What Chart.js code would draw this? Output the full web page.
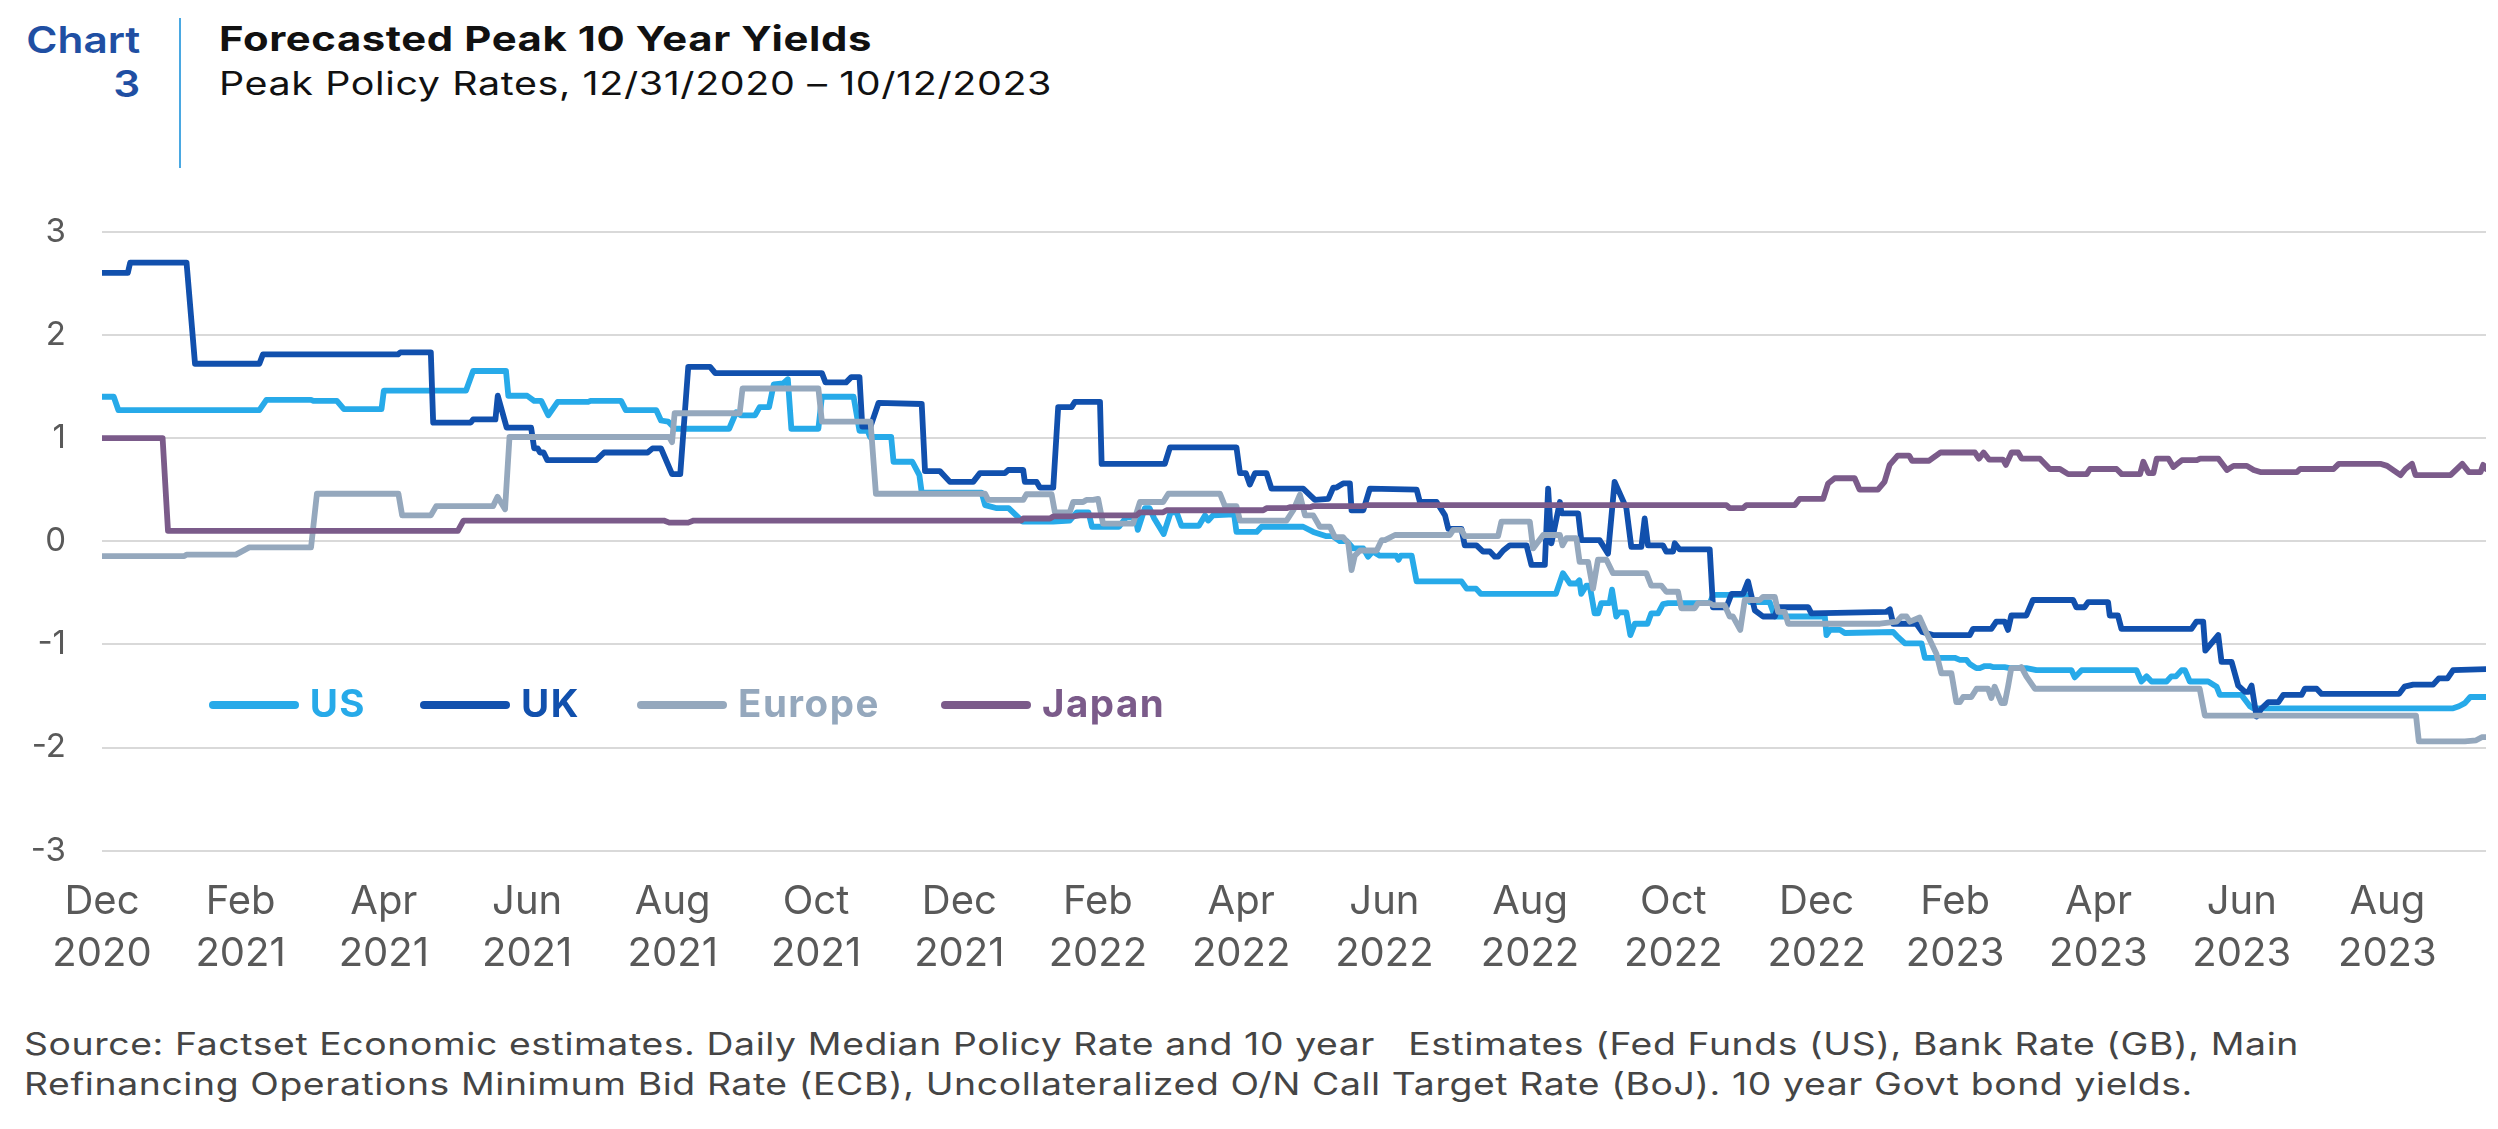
<!DOCTYPE html>
<html>
<head>
<meta charset="utf-8">
<script src="https://cdn.jsdelivr.net/npm/chart.js@4.4.1/dist/chart.umd.min.js"></script>
<style>
  html, body { margin: 0; padding: 0; background: #ffffff; }
  body { width: 2498px; height: 1129px; position: relative; overflow: hidden; font-family: Inter, "Open Sans", sans-serif; }
  .abs { position: absolute; white-space: pre; line-height: 1; }
  .chartNo { color: #1f4fa3; font-weight: 600; font-size: 36.5px; transform-origin: right top; }
  #vline { position: absolute; left: 179px; top: 18px; width: 2px; height: 150px; background: #4aa8e2; }
  #title { left: 219px; top: 22px; font-size: 34.5px; font-weight: 650; color: #111; letter-spacing: 0.5px; transform-origin: left top; }
  #subtitle { left: 219px; top: 67.5px; font-size: 32px; font-weight: 400; color: #111; letter-spacing: 0.5px; transform-origin: left top; }
  #foot { left: 24px; top: 1024px; font-size: 31px; line-height: 40px; color: #454545; letter-spacing: 0.5px; transform-origin: left top; }
  #cv { position: absolute; left: 0; top: 0; }
  .lg { position: absolute; height: 40px; }
  .lg .sw { position: absolute; left: 0; top: 16.7px; width: 90px; height: 8px; border-radius: 4px; }
  .lg .tx { position: absolute; top: 0; font-weight: 650; font-size: 38.5px; line-height: 1; white-space: pre; letter-spacing: 1.5px; }
</style>
</head>
<body>
<div id="chartA" class="abs chartNo" style="right:2358px;top:22px">Chart</div>
<div id="chartB" class="abs chartNo" style="right:2358px;top:65.5px">3</div>
<div id="vline"></div>
<div id="title" class="abs">Forecasted Peak 10 Year Yields</div>
<div id="subtitle" class="abs">Peak Policy Rates, 12/31/2020 – 10/12/2023</div>
<canvas id="cv" width="2498" height="1000"></canvas>
<div id="legend"></div>
<div id="foot" class="abs">Source: Factset Economic estimates. Daily Median Policy Rate and 10 year   Estimates (Fed Funds (US), Bank Rate (GB), Main
Refinancing Operations Minimum Bid Rate (ECB), Uncollateralized O/N Call Target Rate (BoJ). 10 year Govt bond yields.</div>
<script>
// ---------------- DATA (x = days since 2020-12-31, y = forecasted peak yield) ----------------
const seriesNames = ['US', 'UK', 'Europe', 'Japan'];

const usSeries = [[0,1.40],[5,1.40],[7,1.27],[67,1.27],[70,1.37],[89,1.37],[90,1.36],[100,1.36],[103,1.28],[119,1.28],[120,1.46],[155,1.46],[158,1.65],[172,1.65],[173,1.41],[181,1.41],[184,1.36],[187,1.36],[190,1.22],[194,1.35],[207,1.35],[208,1.36],[221,1.36],[223,1.27],[236,1.27],[238,1.17],[241,1.16],[244,1.09],[267,1.09],[270,1.25],[272,1.22],[278,1.22],[280,1.30],[284,1.30],[286,1.52],[290,1.53],[292,1.57],[293.5,1.09],[305,1.09],[306.5,1.40],[320,1.40],[322.5,1.07],[326,1.07],[327,1.01],[336,1.01],[337,0.77],[345,0.77],[348,0.64],[349,0.47],[374.5,0.47],[376,0.35],[381,0.32],[386,0.32],[392,0.19],[405,0.19],[412,0.20],[415,0.28],[420,0.28],[421.5,0.14],[433,0.14],[436,0.23],[440,0.23],[441,0.11],[444,0.32],[446,0.32],[448,0.22],[452,0.07],[455,0.28],[457.5,0.28],[459.6,0.15],[467,0.15],[469.6,0.25],[471,0.20],[473,0.25],[482,0.26],[483,0.09],[491.6,0.09],[493.7,0.14],[511.4,0.14],[515.7,0.09],[521,0.05],[524,0.05],[527,0.00],[530,0.00],[532.7,-0.07],[537,-0.07],[539,-0.15],[541,-0.10],[544,-0.14],[551,-0.14],[552,-0.18],[553,-0.14],[557.6,-0.14],[559.7,-0.39],[578.8,-0.39],[581,-0.46],[585,-0.46],[587,-0.51],[619,-0.51],[622,-0.31],[625,-0.41],[627.7,-0.41],[629,-0.38],[629.8,-0.51],[632,-0.43],[633.4,-0.43],[635.5,-0.70],[637,-0.70],[638.3,-0.60],[641.9,-0.60],[642.9,-0.47],[644.7,-0.73],[646,-0.69],[649,-0.69],[650.7,-0.91],[652.6,-0.80],[658,-0.80],[659.6,-0.70],[662.5,-0.70],[664.6,-0.61],[666.8,-0.60],[684.5,-0.60],[686,-0.52],[700,-0.52],[701.6,-0.59],[710,-0.59],[712.2,-0.73],[733.5,-0.73],[734.2,-0.91],[735.7,-0.86],[740,-0.86],[742,-0.89],[762.6,-0.88],[764.7,-0.93],[767.6,-0.99],[774.7,-0.99],[776.1,-1.13],[788.8,-1.13],[791,-1.15],[793.8,-1.15],[795.2,-1.19],[798,-1.23],[799.5,-1.23],[801.6,-1.21],[803.7,-1.21],[805,-1.22],[810,-1.22],[812.2,-1.23],[819.3,-1.23],[823.6,-1.25],[838.5,-1.25],[839.9,-1.32],[842.8,-1.25],[866.2,-1.25],[868.3,-1.36],[870.5,-1.31],[872.6,-1.36],[879,-1.36],[881,-1.31],[883,-1.31],[885.4,-1.25],[886.8,-1.25],[888.9,-1.36],[896.7,-1.36],[900.3,-1.41],[901.7,-1.49],[910.9,-1.49],[914.5,-1.60],[915.9,-1.62],[1001,-1.62],[1003.5,-1.60],[1006,-1.57],[1008.3,-1.51],[1015,-1.51]];

const ukSeries = [[0,2.60],[11,2.60],[12,2.70],[36,2.70],[39.6,1.72],[67,1.72],[68.5,1.81],[126,1.81],[127,1.83],[140,1.83],[141,1.15],[157,1.15],[158,1.18],[167.5,1.18],[168.5,1.41],[172.3,1.10],[182.7,1.10],[184,0.90],[185.5,0.90],[186.5,0.86],[188,0.86],[189.6,0.785],[210.4,0.785],[213.8,0.86],[232.3,0.86],[234.4,0.90],[238,0.90],[242.7,0.65],[246.2,0.65],[249.6,1.69],[258.9,1.69],[261.1,1.63],[306.5,1.63],[308,1.54],[316.8,1.54],[319,1.59],[322.5,1.59],[323.7,1.11],[327.2,1.11],[330.6,1.34],[349,1.33],[350.4,0.68],[356.7,0.68],[361,0.575],[370.9,0.575],[373.8,0.66],[384.4,0.66],[385.8,0.69],[392.2,0.69],[392.9,0.575],[397.9,0.575],[399.3,0.52],[405,0.52],[407.1,1.30],[412.8,1.30],[414.2,1.35],[424.9,1.35],[425.6,0.75],[452.5,0.75],[454.7,0.91],[483,0.91],[484.5,0.66],[487,0.66],[488.7,0.55],[490.9,0.66],[495.8,0.66],[497.9,0.51],[511.4,0.51],[516.4,0.40],[522.1,0.41],[524.2,0.52],[525.6,0.52],[528.4,0.56],[531.3,0.56],[532,0.30],[537,0.30],[539.8,0.51],[559.7,0.50],[561.1,0.38],[568.2,0.38],[571.8,0.25],[573.2,0.12],[578.8,0.12],[580.2,-0.04],[585.2,-0.04],[588,-0.10],[590.9,-0.10],[593,-0.15],[594.4,-0.15],[596.6,-0.09],[599.4,-0.04],[606.5,-0.04],[608.6,-0.23],[614.3,-0.23],[615.7,0.51],[617.1,-0.02],[620.7,0.38],[621.4,0.27],[628.5,0.27],[629.8,0.01],[637.6,0.01],[641.2,-0.12],[644,0.575],[649,0.32],[651.1,-0.055],[655.4,-0.055],[656.8,0.22],[658.2,-0.04],[664.6,-0.04],[666,-0.10],[668.9,-0.10],[669.6,-0.02],[671.7,-0.08],[684.5,-0.08],[685.9,-0.64],[691.6,-0.64],[693.8,-0.51],[698.7,-0.51],[700.8,-0.39],[703.7,-0.67],[707.2,-0.73],[712.2,-0.73],[713.6,-0.64],[726.4,-0.64],[727.8,-0.70],[759.7,-0.685],[761.2,-0.66],[762.6,-0.80],[772.5,-0.80],[775,-0.88],[779.6,-0.91],[795.2,-0.91],[796.6,-0.85],[804.4,-0.85],[806.5,-0.78],[810.1,-0.78],[811.5,-0.86],[812.9,-0.72],[819.3,-0.72],[822.1,-0.57],[839.2,-0.57],[840.6,-0.64],[844.1,-0.64],[845.6,-0.59],[854.1,-0.59],[854.8,-0.72],[858.3,-0.72],[859.8,-0.85],[889.6,-0.85],[891.7,-0.78],[894.6,-0.78],[895.5,-1.06],[901,-0.91],[902.4,-1.17],[906.7,-1.17],[909.5,-1.40],[912.4,-1.46],[913.8,-1.46],[915.2,-1.40],[917.3,-1.70],[919.5,-1.62],[922.3,-1.56],[926.6,-1.56],[928.7,-1.49],[936.5,-1.49],[937.9,-1.43],[942.9,-1.43],[945,-1.48],[978,-1.48],[980.3,-1.41],[984,-1.39],[992.5,-1.39],[994.9,-1.33],[998.6,-1.33],[1001,-1.25],[1015,-1.24]];

const europeSeries = [[0,-0.145],[35,-0.145],[36,-0.13],[57,-0.13],[62.7,-0.06],[89,-0.06],[91.5,0.46],[126.2,0.46],[127.8,0.25],[140,0.25],[142.3,0.34],[166.5,0.34],[168.4,0.43],[171.6,0.31],[173.5,1.01],[241.5,1.01],[242.7,0.96],[243.8,1.24],[271.5,1.24],[272.7,1.48],[305,1.48],[306.5,1.16],[327.2,1.16],[329.5,0.46],[376,0.46],[377.3,0.40],[392.2,0.40],[393.6,0.455],[404.3,0.455],[405.7,0.28],[412,0.28],[413.5,0.38],[417.7,0.38],[419.1,0.40],[422,0.40],[424.1,0.41],[426.2,0.17],[439,0.17],[441.9,0.38],[451.8,0.38],[454,0.46],[476,0.46],[478.1,0.34],[483,0.34],[484.5,0.20],[504.3,0.20],[507.2,0.30],[510,0.45],[512.2,0.25],[515.7,0.25],[518.5,0.14],[522.8,0.14],[524.9,0.04],[528.4,0.04],[530.6,-0.02],[532,-0.28],[533.4,-0.14],[535.6,-0.09],[542.7,-0.09],[544.8,0.01],[546.2,0.01],[550.5,0.06],[573.9,0.06],[575.3,0.11],[578.8,0.11],[580.2,0.05],[594.4,0.05],[595.8,0.19],[607.9,0.19],[609.3,-0.07],[613.6,0.06],[620.7,0.06],[621.8,-0.04],[623.5,0.03],[627.7,0.03],[629.1,-0.20],[632.7,-0.20],[634.8,-0.46],[636.9,-0.18],[640.5,-0.18],[643.3,-0.31],[657.5,-0.31],[659.6,-0.43],[663.9,-0.43],[666,-0.49],[671,-0.49],[672.4,-0.65],[678.1,-0.65],[679.5,-0.60],[684.5,-0.60],[685.9,-0.62],[690.8,-0.62],[693,-0.73],[694.4,-0.73],[697.5,-0.86],[699.4,-0.57],[705.8,-0.57],[707.2,-0.54],[712.2,-0.54],[713.6,-0.685],[716.4,-0.685],[717.9,-0.80],[757,-0.80],[764,-0.78],[766.1,-0.73],[768.3,-0.73],[769.7,-0.78],[773.9,-0.74],[776.8,-0.89],[781,-1.09],[783.1,-1.28],[787.4,-1.28],[789.5,-1.56],[791,-1.56],[792.4,-1.51],[795.9,-1.51],[798.1,-1.43],[803,-1.43],[804.4,-1.52],[805.8,-1.41],[808.7,-1.57],[810.1,-1.57],[811.5,-1.41],[812.9,-1.23],[816.5,-1.23],[817.2,-1.22],[819.3,-1.31],[822.9,-1.43],[893.1,-1.43],[895.3,-1.69],[985.2,-1.69],[986.4,-1.94],[1006,-1.94],[1010.8,-1.93],[1013.2,-1.90],[1015,-1.90]];

const japanSeries = [[0,1.00],[25.8,1.00],[28.1,0.10],[151.5,0.10],[153.9,0.20],[239.2,0.20],[241.5,0.18],[249.6,0.18],[251.9,0.20],[391.3,0.20],[392.2,0.22],[403.6,0.22],[405,0.24],[413.5,0.24],[416.4,0.25],[440.5,0.25],[441.9,0.28],[451.8,0.28],[453.3,0.30],[494.4,0.30],[495.8,0.32],[504.3,0.32],[505.7,0.33],[514.3,0.33],[515.7,0.34],[537,0.34],[538.4,0.35],[691.6,0.35],[693,0.32],[698.7,0.32],[700.1,0.35],[720.7,0.35],[722.8,0.41],[732.8,0.41],[734.9,0.56],[737.7,0.61],[746.2,0.61],[748.3,0.50],[756.1,0.50],[758.9,0.575],[761.1,0.74],[764.5,0.83],[769.4,0.83],[770.6,0.78],[777.9,0.78],[782.8,0.86],[797.4,0.86],[799.1,0.80],[801.1,0.86],[803.5,0.79],[809.4,0.79],[810.6,0.74],[813,0.86],[815.8,0.86],[817.3,0.80],[825.1,0.80],[829.3,0.70],[833.6,0.70],[837.1,0.65],[845,0.65],[846.4,0.70],[857.7,0.70],[859.9,0.65],[867.7,0.65],[869.1,0.77],[871.3,0.66],[873.4,0.66],[874.8,0.80],[879.8,0.80],[881.9,0.72],[885.5,0.785],[891.9,0.785],[893.3,0.80],[901.1,0.80],[904.7,0.69],[907.5,0.73],[913.2,0.73],[916.1,0.69],[918.9,0.67],[934.5,0.67],[935.9,0.70],[950.1,0.70],[952.3,0.75],[970,0.75],[972.9,0.73],[978.6,0.64],[980.7,0.70],[983.5,0.75],[985,0.64],[999.9,0.64],[1004.9,0.75],[1007.7,0.67],[1012.7,0.67],[1013.8,0.74],[1015,0.70]];

const startDate = '2020-12-31';
const endDate = '2023-10-12';
const tickDates = ['2020-12-31','2021-02-28','2021-04-30','2021-06-30','2021-08-31','2021-10-31','2021-12-31','2022-02-28','2022-04-30','2022-06-30','2022-08-31','2022-10-31','2022-12-31','2023-02-28','2023-04-30','2023-06-30','2023-08-31'];
const tickLabels = [['Dec','2020'],['Feb','2021'],['Apr','2021'],['Jun','2021'],['Aug','2021'],['Oct','2021'],['Dec','2021'],['Feb','2022'],['Apr','2022'],['Jun','2022'],['Aug','2022'],['Oct','2022'],['Dec','2022'],['Feb','2023'],['Apr','2023'],['Jun','2023'],['Aug','2023']];
const yTicks = [-3, -2, -1, 0, 1, 2, 3];

// ---------------- STYLE / LAYOUT ----------------
const colors = ['#27aae9', '#1150ad', '#95a8bd', '#7b5b8a'];
const legendLeft = [208.7, 420, 637, 941];
const legendTop = 684;
const plotTop = 231.7, plotLeft = 102, plotBottom = 850.7, canvasH = 1000;
// target rendered widths of header / footnote text blocks (px)
const textWidths = { chartA: 114, title: 653, subtitle: 833, foot: 2275 };

function dayOf(s) {
  const p = s.split('-').map(Number), q = startDate.split('-').map(Number);
  return (Date.UTC(p[0], p[1]-1, p[2]) - Date.UTC(q[0], q[1]-1, q[2])) / 86400000;
}
const tickDays = tickDates.map(dayOf);
const allSeries = [usSeries, ukSeries, europeSeries, japanSeries];

const datasets = allSeries.map((s, i) => ({
  label: seriesNames[i],
  data: s.map(p => ({ x: p[0], y: p[1] })),
  borderColor: colors[i],
  backgroundColor: colors[i],
  borderWidth: 5.8,
  pointRadius: 0,
  fill: false,
  tension: 0,
  borderJoinStyle: 'round',
  borderCapStyle: 'round',
  order: 4 - i
}));

const tickFont = { family: 'Inter, "Open Sans", sans-serif', size: 40, weight: '400', lineHeight: 1.3 };
const yFont = { family: 'Inter, "Open Sans", sans-serif', size: 33, weight: '400' };

const chart = new Chart(document.getElementById('cv'), {
  type: 'line',
  data: { datasets },
  options: {
    responsive: false,
    animation: false,
    events: [],
    layout: { padding: { top: plotTop, right: 12, left: 0, bottom: 0 } },
    plugins: { legend: { display: false }, tooltip: { enabled: false }, title: { display: false } },
    scales: {
      x: {
        type: 'linear',
        min: 0,
        max: dayOf(endDate),
        grid: { display: false, drawTicks: false },
        border: { display: false },
        afterBuildTicks: (s) => { s.ticks = tickDays.map(v => ({ value: v })); },
        afterFit: (s) => { s.height = canvasH - plotBottom; },
        ticks: {
          autoSkip: false, maxRotation: 0, minRotation: 0, padding: 25,
          color: '#595959', font: tickFont,
          callback: (v, i) => tickLabels[i]
        }
      },
      y: {
        min: yTicks[0],
        max: yTicks[yTicks.length - 1],
        afterBuildTicks: (s) => { s.ticks = yTicks.map(v => ({ value: v })); },
        afterFit: (s) => { s.width = plotLeft; },
        grid: { color: '#d9d9d9', lineWidth: 2, drawTicks: false },
        border: { display: false },
        ticks: { padding: 36, color: '#595959', font: yFont, callback: (v) => String(v) }
      }
    }
  }
});

// HTML legend built from the chart's datasets
const lg = document.getElementById('legend');
chart.data.datasets.forEach((ds, i) => {
  const item = document.createElement('div');
  item.className = 'lg';
  item.style.left = legendLeft[i] + 'px';
  item.style.top = legendTop + 'px';
  const sw = document.createElement('div');
  sw.className = 'sw';
  sw.style.background = ds.borderColor;
  const tx = document.createElement('div');
  tx.className = 'tx';
  tx.style.left = '101px';
  tx.style.color = ds.borderColor;
  tx.textContent = ds.label;
  item.appendChild(sw);
  item.appendChild(tx);
  lg.appendChild(item);
});

// stretch the wide-font header/footnote text horizontally to the reference widths
Object.keys(textWidths).forEach(id => {
  const el = document.getElementById(id);
  const w = el.getBoundingClientRect().width;
  if (w > 0) {
    const k = textWidths[id] / w;
    el.style.transform = 'scaleX(' + k.toFixed(4) + ')';
    if (id === 'chartA') document.getElementById('chartB').style.transform = 'scaleX(' + k.toFixed(4) + ')';
  }
});
</script>
</body>
</html>
